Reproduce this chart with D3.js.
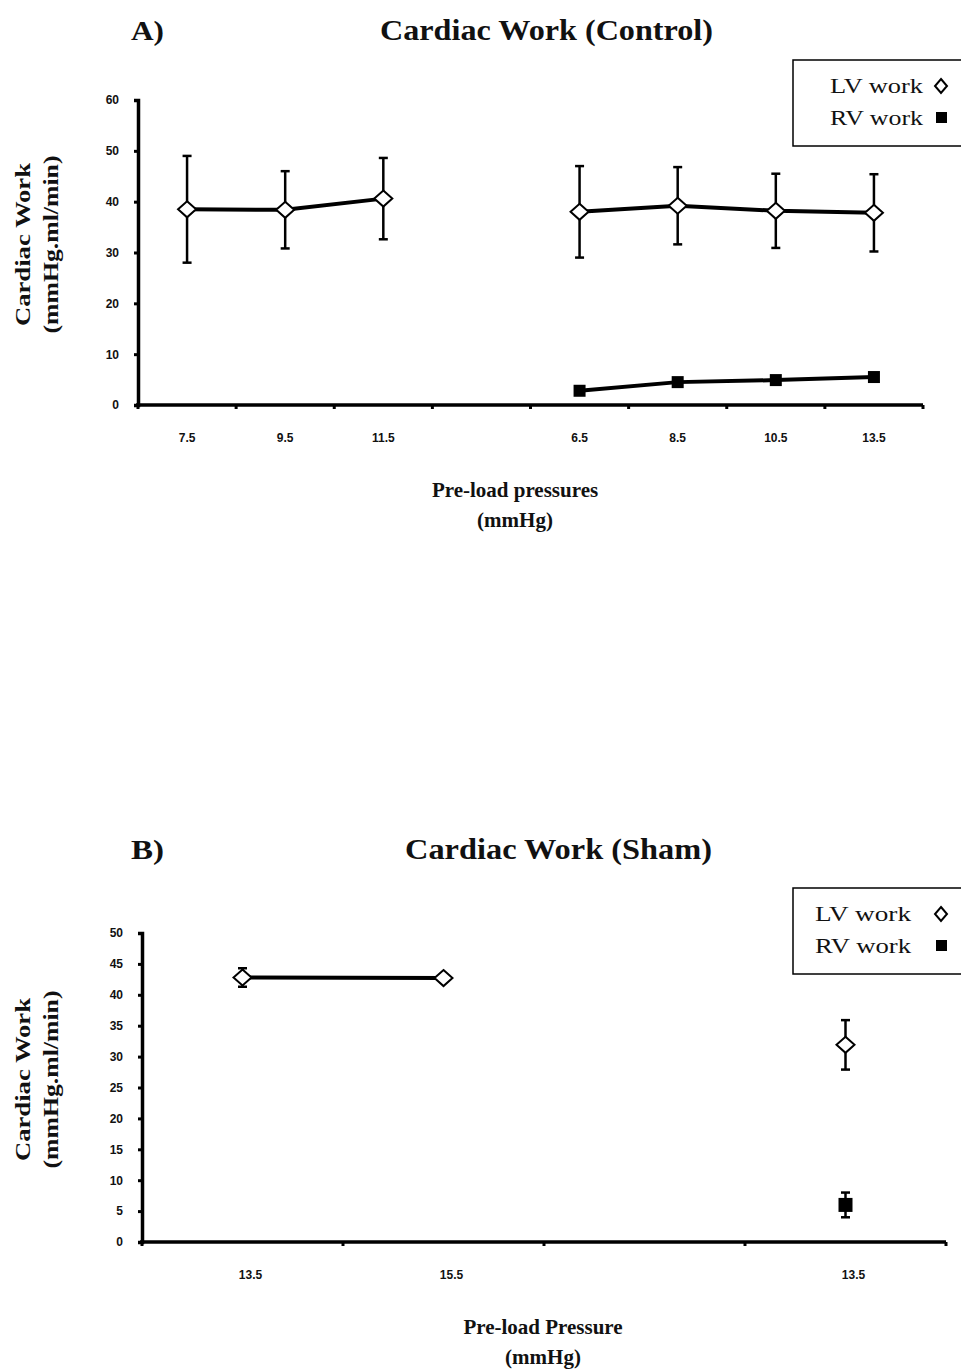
<!DOCTYPE html>
<html>
<head>
<meta charset="utf-8">
<script src="https://cdn.jsdelivr.net/npm/d3@7"></script>
<style>
  body { margin: 0; background: #fff; }
  svg { display: block; }
  .title { font-family: "Liberation Serif", serif; font-weight: bold; fill: #111; }
  .tick-label { font-family: "Liberation Sans", sans-serif; font-weight: bold; font-size: 12px; fill: #111; }
  .legend-text { font-family: "Liberation Serif", serif; font-size: 22px; fill: #111; }
</style>
</head>
<body>
<svg id="chart" width="961" height="1370"></svg>
<script>
// Panel A - control
const ctrlLabels = ["7.5", "9.5", "11.5", "", "6.5", "8.5", "10.5", "13.5"];
const ctrlLV = [38.5, 38.4, 40.6, null, 38.0, 39.2, 38.2, 37.8];
const ctrlLVErr = [10.5, 7.6, 8.0, null, 9.0, 7.6, 7.3, 7.6];
const ctrlRV = [null, null, null, null, 2.8, 4.5, 4.9, 5.5];
const ctrlRVErr = [null, null, null, null, 0, 0, 0, 0];
const ctrlYTicks = [0, 10, 20, 30, 40, 50, 60];

// Panel B - sham
const shamLabels = ["13.5", "15.5", "", "13.5"];
const shamLV = [42.8, 42.7, null, 31.9];
const shamLVErr = [1.5, 0, null, 4.0];
const shamRV = [null, null, null, 6.0];
const shamRVErr = [null, null, null, 2.0];
const shamYTicks = [0, 5, 10, 15, 20, 25, 30, 35, 40, 45, 50];

const svg = d3.select("#chart");

const diamond = (w, h) => `M0,${-h}L${w},0L0,${h}L${-w},0Z`;

function drawPanel(cfg) {
    const g = svg.append("g");

    const x = d3.scaleBand()
        .domain(d3.range(cfg.labels.length))
        .range([cfg.left, cfg.right])
        .paddingInner(0);

    const y = d3.scaleLinear()
        .domain([0, cfg.yMax])
        .range([cfg.bottom, cfg.top]);

    const cx = i => x(i) + x.bandwidth() / 2;

    // titles
    g.append("text").attr("class", "title")
        .attr("x", 131).attr("y", cfg.titleY)
        .attr("font-size", 27)
        .attr("textLength", 33).attr("lengthAdjust", "spacingAndGlyphs")
        .text(cfg.tag);
    g.append("text").attr("class", "title")
        .attr("x", cfg.titleX).attr("y", cfg.titleY)
        .attr("font-size", 29)
        .attr("textLength", cfg.titleW).attr("lengthAdjust", "spacingAndGlyphs")
        .text(cfg.title);

    // y axis
    const yAxis = g.append("g")
        .attr("transform", `translate(${cfg.left},0)`)
        .call(d3.axisLeft(y).tickValues(cfg.yTicks).tickSize(4).tickPadding(15));
    yAxis.select(".domain").attr("stroke", "#000").attr("stroke-width", 3.5);
    yAxis.selectAll(".tick line").attr("stroke", "#000").attr("stroke-width", 3);
    yAxis.selectAll(".tick text").attr("class", "tick-label").attr("font-size", null).attr("font-family", null);

    // x axis (ticks between categories)
    const bounds = d3.range(cfg.labels.length + 1).map(i => cfg.left + i * x.step());
    g.append("line")
        .attr("x1", cfg.left - 2).attr("x2", cfg.right)
        .attr("y1", cfg.bottom).attr("y2", cfg.bottom)
        .attr("stroke", "#000").attr("stroke-width", 3.5);
    g.selectAll(".xtick").data(bounds).enter().append("line")
        .attr("x1", d => d).attr("x2", d => d)
        .attr("y1", cfg.bottom).attr("y2", cfg.bottom + 4)
        .attr("stroke", "#000").attr("stroke-width", 3);
    g.selectAll(".xlabel").data(cfg.labels).enter().append("text")
        .attr("class", "tick-label")
        .attr("text-anchor", "middle")
        .attr("x", (d, i) => cx(i) + cfg.labelDx)
        .attr("y", cfg.bottom + 37)
        .text(d => d);

    // axis titles
    const yMid = (cfg.top + cfg.bottom) / 2 - 8;
    g.append("text").attr("class", "title")
        .attr("transform", `translate(30,${yMid}) rotate(-90)`)
        .attr("text-anchor", "middle").attr("font-size", 21)
        .attr("textLength", 163).attr("lengthAdjust", "spacingAndGlyphs")
        .text("Cardiac Work");
    g.append("text").attr("class", "title")
        .attr("transform", `translate(58,${yMid}) rotate(-90)`)
        .attr("text-anchor", "middle").attr("font-size", 21)
        .attr("textLength", 178).attr("lengthAdjust", "spacingAndGlyphs")
        .text("(mmHg.ml/min)");

    g.append("text").attr("class", "title")
        .attr("x", cfg.xTitleX).attr("y", cfg.bottom + 92)
        .attr("text-anchor", "middle").attr("font-size", 21)
        .text(cfg.xTitle);
    g.append("text").attr("class", "title")
        .attr("x", cfg.xTitleX).attr("y", cfg.bottom + 122)
        .attr("text-anchor", "middle").attr("font-size", 21)
        .text("(mmHg)");

    // series
    const series = [
        { vals: cfg.lv, errs: cfg.lvErr, shape: "diamond" },
        { vals: cfg.rv, errs: cfg.rvErr, shape: "square" }
    ];

    series.forEach(s => {
        const pts = s.vals.map((v, i) => ({ i, v, e: s.errs[i] }));

        const line = d3.line()
            .defined(d => d.v != null)
            .x(d => cx(d.i))
            .y(d => y(d.v));
        g.append("path")
            .datum(pts)
            .attr("d", line)
            .attr("fill", "none")
            .attr("stroke", "#000")
            .attr("stroke-width", 4);

        const valid = pts.filter(d => d.v != null && d.e);
        const eb = g.append("g").attr("stroke", "#000").attr("stroke-width", 2.5);
        eb.selectAll(".ev").data(valid).enter().append("line")
            .attr("x1", d => cx(d.i)).attr("x2", d => cx(d.i))
            .attr("y1", d => y(d.v + d.e)).attr("y2", d => y(d.v - d.e));
        eb.selectAll(".et").data(valid).enter().append("line")
            .attr("x1", d => cx(d.i) - 4.5).attr("x2", d => cx(d.i) + 4.5)
            .attr("y1", d => y(d.v + d.e)).attr("y2", d => y(d.v + d.e));
        eb.selectAll(".eb").data(valid).enter().append("line")
            .attr("x1", d => cx(d.i) - 4.5).attr("x2", d => cx(d.i) + 4.5)
            .attr("y1", d => y(d.v - d.e)).attr("y2", d => y(d.v - d.e));

        const marks = pts.filter(d => d.v != null);
        if (s.shape === "diamond") {
            g.selectAll(".dm").data(marks).enter().append("path")
                .attr("d", diamond(9, 8))
                .attr("transform", d => `translate(${cx(d.i)},${y(d.v)})`)
                .attr("fill", "#fff").attr("stroke", "#000").attr("stroke-width", 2);
        } else {
            g.selectAll(".sq").data(marks).enter().append("rect")
                .attr("x", d => cx(d.i) - cfg.sq / 2)
                .attr("y", d => y(d.v) - cfg.sq / 2)
                .attr("width", cfg.sq).attr("height", cfg.sq)
                .attr("fill", "#000");
        }
    });

    // legend
    const lg = g.append("g");
    lg.append("rect")
        .attr("x", 793).attr("y", cfg.legendTop)
        .attr("width", 200).attr("height", 86)
        .attr("fill", "#fff").attr("stroke", "#000").attr("stroke-width", 1.5);
    lg.append("text").attr("class", "legend-text")
        .attr("x", cfg.legendTextX).attr("y", cfg.legendTop + 33)
        .attr("textLength", cfg.legendTextW).attr("lengthAdjust", "spacingAndGlyphs")
        .text("LV work");
    lg.append("text").attr("class", "legend-text")
        .attr("x", cfg.legendTextX).attr("y", cfg.legendTop + 65)
        .attr("textLength", cfg.legendTextW).attr("lengthAdjust", "spacingAndGlyphs")
        .text("RV work");
    lg.append("path")
        .attr("d", diamond(6, 7))
        .attr("transform", `translate(${cfg.legendSymX},${cfg.legendTop + 26})`)
        .attr("fill", "#fff").attr("stroke", "#000").attr("stroke-width", 2);
    lg.append("rect")
        .attr("x", cfg.legendSymX - 5).attr("y", cfg.legendTop + 52)
        .attr("width", 11).attr("height", 11)
        .attr("fill", "#000");
}

drawPanel({
    tag: "A)", title: "Cardiac Work (Control)", titleX: 380, titleW: 333, titleY: 40,
    labels: ctrlLabels, lv: ctrlLV, lvErr: ctrlLVErr, rv: ctrlRV, rvErr: ctrlRVErr,
    yMax: 60, yTicks: ctrlYTicks,
    left: 138, right: 923, top: 100, bottom: 405,
    labelDx: 0, sq: 12,
    xTitle: "Pre-load pressures", xTitleX: 515,
    legendTop: 60, legendTextX: 830, legendTextW: 93, legendSymX: 941
});

drawPanel({
    tag: "B)", title: "Cardiac Work (Sham)", titleX: 405, titleW: 307, titleY: 859,
    labels: shamLabels, lv: shamLV, lvErr: shamLVErr, rv: shamRV, rvErr: shamRVErr,
    yMax: 50, yTicks: shamYTicks,
    left: 142, right: 946, top: 933, bottom: 1242,
    labelDx: 8, sq: 14,
    xTitle: "Pre-load Pressure", xTitleX: 543,
    legendTop: 888, legendTextX: 815, legendTextW: 96, legendSymX: 941
});
</script>
</body>
</html>
